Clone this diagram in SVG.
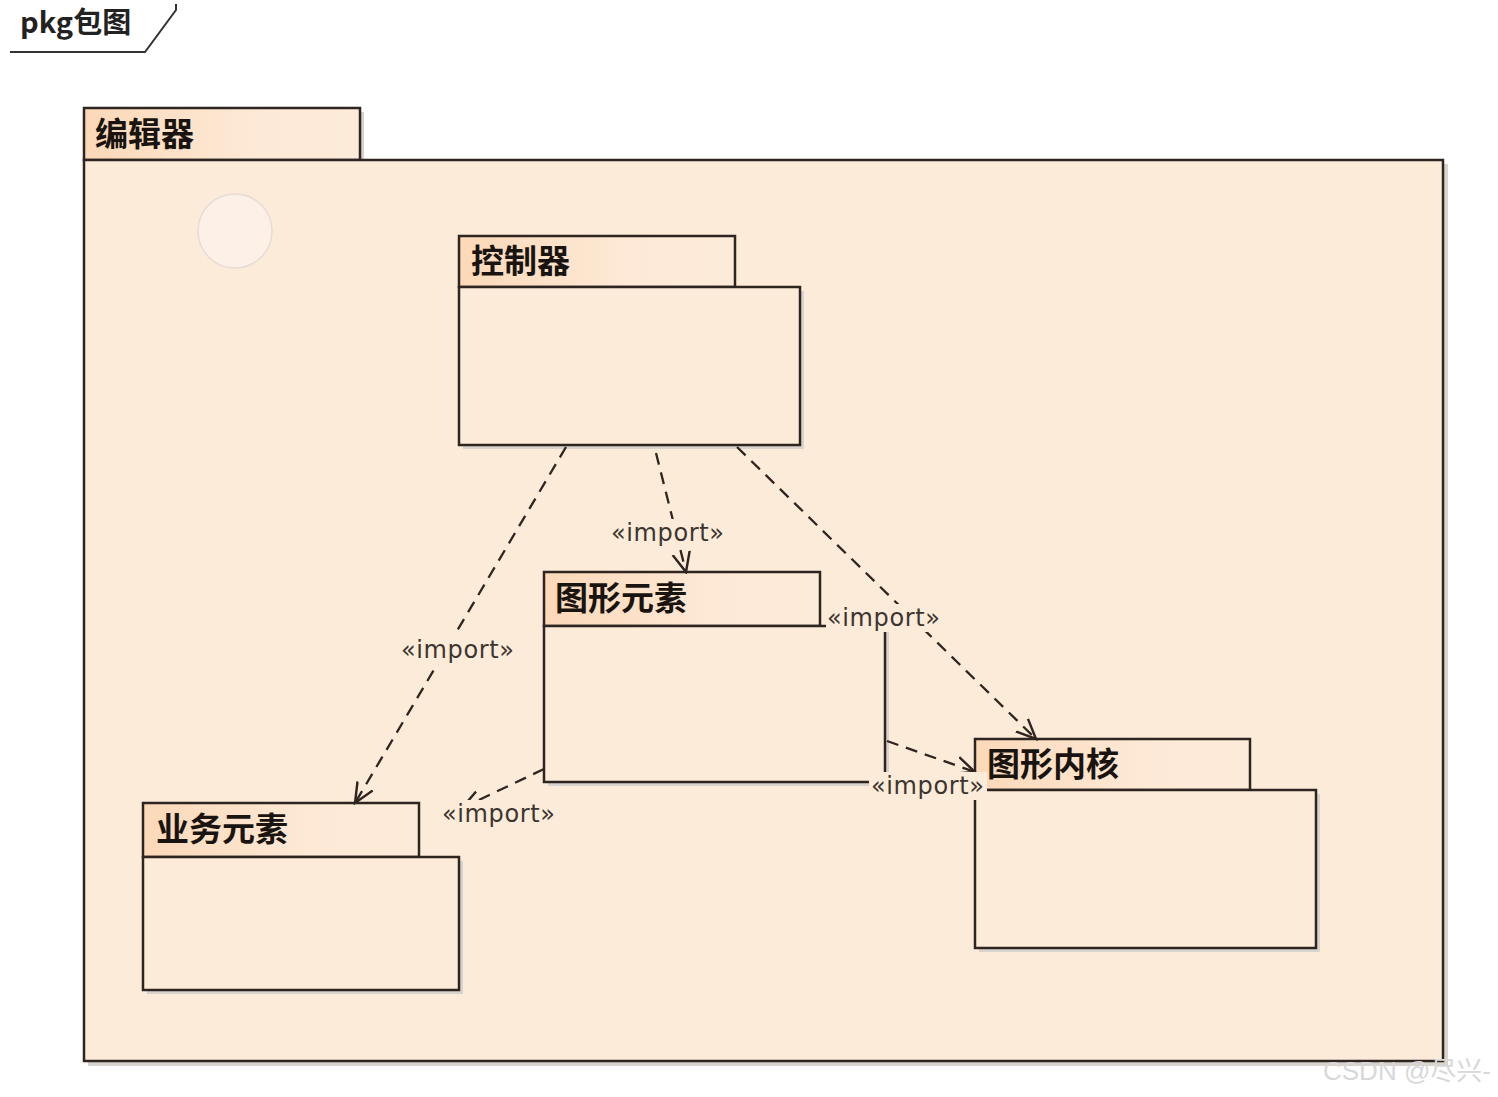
<svg xmlns="http://www.w3.org/2000/svg" width="1498" height="1097" viewBox="0 0 1498 1097">
<style>
.body{fill:#fdebd9;stroke:#2e2520;stroke-width:2.5}
.tab{fill:url(#tabg);stroke:#2e2520;stroke-width:2.5}
.shadow{fill:#d9d3ce}
.title{font-family:"Noto Sans CJK SC","Liberation Sans",sans-serif;font-weight:bold;font-size:33px;fill:#1a1410}
.lbl{font-family:"DejaVu Sans","Liberation Sans",sans-serif;font-size:24px;fill:#3b3530}
.lblbg{fill:#fdebd9}
.dep{fill:none;stroke:#2e2520;stroke-width:2.3;stroke-dasharray:12 8}
</style>
<defs>
<linearGradient id="tabg" x1="0" y1="0" x2="1" y2="0">
<stop offset="0" stop-color="#fbd8b8"/>
<stop offset="0.6" stop-color="#fde9d6"/>
<stop offset="1" stop-color="#fdebd9"/>
</linearGradient>
<marker id="open" viewBox="0 0 20 20" refX="18" refY="10" markerWidth="22" markerHeight="22" markerUnits="userSpaceOnUse" orient="auto">
<path d="M0,2 L18,10 L0,18" fill="none" stroke="#2e2520" stroke-width="2.2"/>
</marker>
</defs>
<rect width="1498" height="1097" fill="#ffffff"/>
<g id="frame">
<path d="M10,52 H145 L176,10 V4" fill="none" stroke="#333" stroke-width="2"/>
<text x="20" y="33" font-family="Noto Sans CJK SC,Liberation Sans,sans-serif" font-weight="bold" font-size="29" fill="#222">pkg包图</text>
</g>
<g id="editor">
<rect class="shadow" x="88" y="164" width="1360" height="902"/>
<rect class="shadow" x="88" y="112" width="276" height="52"/>
<rect class="tab" x="84" y="108" width="276" height="52"/>
<rect class="body" x="84" y="160" width="1359" height="901"/>
<text class="title" x="95" y="146">编辑器</text>
<circle cx="235" cy="231" r="37" fill="#fdf1e7" stroke="#e6dcd6" stroke-width="1.5"/>
</g>
<g id="controller">
<rect class="shadow" x="463" y="291" width="341" height="158"/>
<rect class="tab" x="459" y="236" width="276" height="51"/>
<rect class="body" x="459" y="287" width="341" height="158"/>
<text class="title" x="471" y="273">控制器</text>
</g>
<g id="graphic-elements">
<rect class="shadow" x="548" y="630" width="341" height="156"/>
<rect class="tab" x="544" y="572" width="276" height="54"/>
<rect class="body" x="544" y="626" width="341" height="156"/>
<text class="title" x="555" y="610">图形元素</text>
</g>
<g id="business-elements">
<rect class="shadow" x="147" y="861" width="316" height="133"/>
<rect class="tab" x="143" y="803" width="276" height="54"/>
<rect class="body" x="143" y="857" width="316" height="133"/>
<text class="title" x="156" y="841">业务元素</text>
</g>
<g id="graphic-kernel">
<rect class="shadow" x="979" y="794" width="341" height="158"/>
<rect class="tab" x="975" y="739" width="275" height="51"/>
<rect class="body" x="975" y="790" width="341" height="158"/>
<text class="title" x="987" y="776">图形内核</text>
</g>
<g id="connectors">
<line class="dep" x1="566" y1="447" x2="355" y2="803" marker-end="url(#open)"/>
<line class="dep" x1="656" y1="453" x2="686" y2="572" marker-end="url(#open)"/>
<line class="dep" x1="737" y1="447" x2="1036" y2="739" marker-end="url(#open)"/>
<line class="dep" x1="887" y1="741" x2="975" y2="772" marker-end="url(#open)"/>
<line class="dep" x1="544" y1="769" x2="462" y2="808" marker-end="url(#open)"/>
<rect class="lblbg" x="400" y="636" width="116" height="28"/>
<text class="lbl" x="401" y="658" textLength="113">«import»</text>
<rect class="lblbg" x="610" y="519" width="116" height="28"/>
<text class="lbl" x="611" y="541" textLength="113">«import»</text>
<rect class="lblbg" x="826" y="604" width="116" height="28"/>
<text class="lbl" x="827" y="626" textLength="113">«import»</text>
<rect class="lblbg" x="869" y="772" width="118" height="28"/>
<text class="lbl" x="871" y="794" textLength="113">«import»</text>
<rect class="lblbg" x="441" y="800" width="116" height="28"/>
<text class="lbl" x="442" y="822" textLength="113">«import»</text>
</g>
<text x="1323" y="1080" font-family="Liberation Sans,Noto Sans CJK SC,sans-serif" font-size="26" fill="#d8d8d8">CSDN @尽兴-</text>
</svg>
